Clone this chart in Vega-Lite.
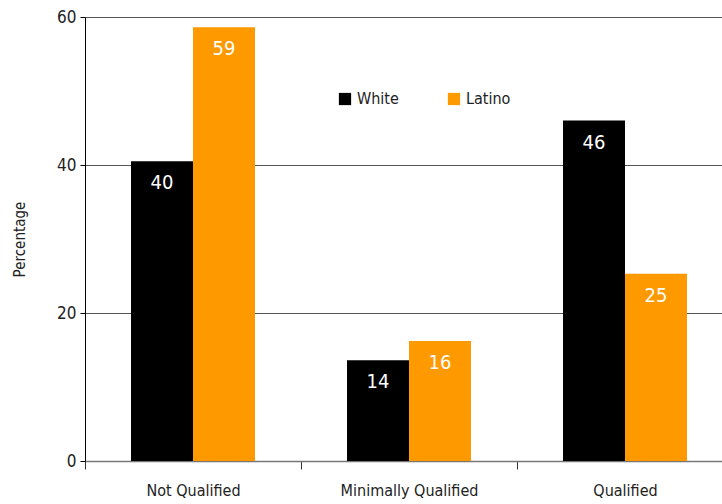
{
  "$schema": "https://vega.github.io/schema/vega-lite/v6.json",
  "autosize": "none",
  "width": 637,
  "height": 444,
  "padding": {"left": 85, "top": 17, "right": 0, "bottom": 43},
  "background": "white",
  "config": {
    "font": "Liberation Sans Narrow, DejaVu Sans Condensed, sans-serif",
    "view": {"stroke": null}
  },
  "data": {
    "values": [
      {"category": "Not Qualified", "group": "White", "value": 40.5, "label": "40"},
      {"category": "Not Qualified", "group": "Latino", "value": 58.6, "label": "59"},
      {"category": "Minimally Qualified", "group": "White", "value": 13.6, "label": "14"},
      {"category": "Minimally Qualified", "group": "Latino", "value": 16.2, "label": "16"},
      {"category": "Qualified", "group": "White", "value": 46.0, "label": "46"},
      {"category": "Qualified", "group": "Latino", "value": 25.3, "label": "25"}
    ]
  },
  "encoding": {
    "x": {
      "field": "category",
      "type": "nominal",
      "sort": ["Not Qualified", "Minimally Qualified", "Qualified"],
      "scale": {"range": [0, 648], "paddingInner": 0, "paddingOuter": 0},
      "axis": {
        "title": null,
        "labelAngle": 0,
        "labelFontSize": 16,
        "labelColor": "#222",
        "labelPadding": 13,
        "tickBand": "extent",
        "tickSize": 8,
        "tickColor": "#333",
        "domainColor": "#777",
        "domainWidth": 1.5
      }
    },
    "xOffset": {
      "field": "group",
      "type": "nominal",
      "sort": ["White", "Latino"],
      "scale": {"paddingInner": 0, "paddingOuter": 0.742}
    },
    "y": {
      "field": "value",
      "type": "quantitative",
      "scale": {"domain": [0, 60], "nice": false},
      "axis": {
        "values": [0, 20, 40, 60],
        "title": "Percentage",
        "titleFontSize": 15,
        "titleFontWeight": "normal",
        "titleColor": "#222",
        "titlePadding": 29,
        "labelFontSize": 17,
        "labelColor": "#222",
        "labelPadding": 4,
        "tickSize": 5,
        "tickColor": "#000",
        "domainColor": "#000",
        "grid": true,
        "gridColor": "#555",
        "gridWidth": 1.2
      }
    }
  },
  "layer": [
    {
      "mark": {"type": "bar"},
      "encoding": {
        "color": {
          "field": "group",
          "type": "nominal",
          "scale": {"domain": ["White", "Latino"], "range": ["#000000", "#FF9900"]},
          "legend": {
            "title": null,
            "orient": "none",
            "legendX": 252,
            "legendY": 74,
            "direction": "horizontal",
            "symbolType": "square",
            "symbolSize": 150,
            "symbolStrokeWidth": 0,
            "labelFontSize": 16,
            "labelColor": "#222",
            "labelOffset": 4,
            "columnPadding": 47
          }
        }
      }
    },
    {
      "mark": {"type": "text", "dy": 22, "color": "white", "fontSize": 20},
      "encoding": {"text": {"field": "label"}}
    }
  ]
}
